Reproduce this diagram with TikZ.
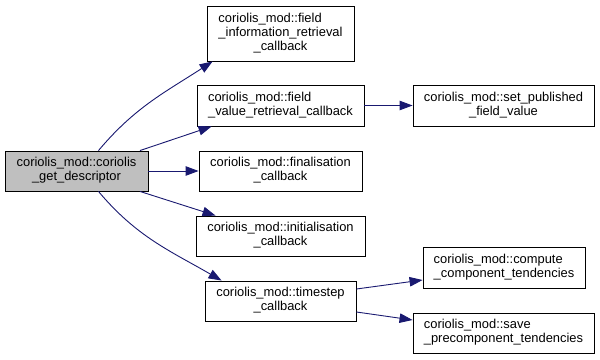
\documentclass[tikz,border=0pt]{standalone}
\usepackage{fontspec}
\setmainfont{Liberation Sans}
\usetikzlibrary{arrows.meta}
\definecolor{edgeblue}{HTML}{191970}
\definecolor{rootgray}{HTML}{BFBFBF}
% label: all lines left aligned, last line centred
\newcommand{\fnlabel}[2]{\begin{tabular}{@{}l@{}}#1\multicolumn{1}{@{}c@{}}{#2}\end{tabular}}
\begin{document}
\begin{tikzpicture}[x=1pt,y=-1pt,
  fnbox/.style={draw=black, line width=0.9pt, fill=white, rectangle, inner sep=0pt,
    font=\fontsize{12.9}{14}\selectfont},
  call/.style={draw=edgeblue, line width=0.9pt,
    -{Triangle[length=13pt,width=9.5pt]}, edgeblue}]
\useasboundingbox (0,0) rectangle (600,359);

\node[fnbox, fill=rootgray, minimum width=143pt, minimum height=40pt] (root) at (76.5,171)
  {\fnlabel{coriolis\_mod::coriolis\\}{\_get\_descriptor}};

\node[fnbox, minimum width=147pt, minimum height=55pt] (finfo) at (280.5,33.5)
  {\fnlabel{coriolis\_mod::field\\ \_information\_retrieval\\}{\_callback}};
\node[fnbox, minimum width=167pt, minimum height=41pt] (fval) at (280.5,105.5)
  {\fnlabel{coriolis\_mod::field\\}{\_value\_retrieval\_callback}};
\node[fnbox, minimum width=163pt, minimum height=40pt] (fin) at (280.5,171)
  {\fnlabel{coriolis\_mod::finalisation\\}{\_callback}};
\node[fnbox, minimum width=169pt, minimum height=40pt] (init) at (280.5,236)
  {\fnlabel{coriolis\_mod::initialisation\\}{\_callback}};
\node[fnbox, minimum width=151pt, minimum height=40pt] (ts) at (280.5,301)
  {\fnlabel{coriolis\_mod::timestep\\}{\_callback}};

\node[fnbox, minimum width=181pt, minimum height=41pt] (setp) at (503.5,105.5)
  {\fnlabel{coriolis\_mod::set\_published\\}{\_field\_value}};
\node[fnbox, minimum width=162pt, minimum height=41pt] (comp) at (504,267.5)
  {\fnlabel{coriolis\_mod::compute\\}{\_component\_tendencies}};
\node[fnbox, minimum width=181pt, minimum height=40pt] (save) at (503.5,333)
  {\fnlabel{coriolis\_mod::save\\}{\_precomponent\_tendencies}};

% calls from the descriptor routine
\draw[call] ([xshift=22pt]root.north) to[out=50,in=213] ([xshift=6pt]finfo.south west);
\draw[call] ([xshift=63.5pt]root.north) -- ([xshift=15pt]fval.south west);
\draw[call] (root.east) -- (fin.west);
\draw[call] ([xshift=63.5pt]root.south) -- ([xshift=20pt]init.north west);
\draw[call] ([xshift=22pt]root.south) to[out=-50,in=150] ([xshift=17pt]ts.north west);

% second level calls
\draw[call] (fval.east) -- (setp.west);
\draw[call] ([yshift=12pt]ts.east) -- ([yshift=-12.5pt]comp.west);
\draw[call] ([yshift=-11pt]ts.east) -- ([yshift=13pt]save.west);
\end{tikzpicture}
\end{document}
